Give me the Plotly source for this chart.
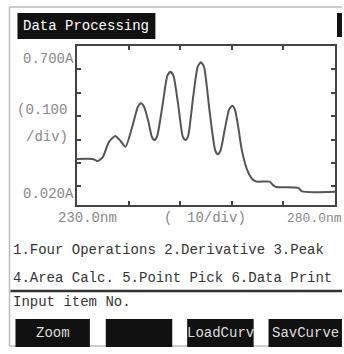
import plotly.graph_objects as go

# ---- data ----
wavelength_nm = [230.0, 233.0, 234.0, 235.0, 236.2, 237.4, 238.4, 239.4, 240.9,
                 241.8, 242.4, 243.0, 243.8, 244.5, 245.0, 245.5, 246.6,
                 247.5, 248.1, 248.7, 249.6, 250.5, 251.0, 251.5, 252.5,
                 253.4, 254.0, 254.6, 255.7, 256.8, 257.3, 257.8, 258.7,
                 259.5, 260.1, 260.6, 261.2, 261.9, 262.9, 264.0, 264.8,
                 267.3, 268.0, 268.6, 272.9, 273.6, 280.0]
absorbance = [0.217, 0.217, 0.208, 0.225, 0.290, 0.315, 0.295, 0.269, 0.370,
              0.440, 0.455, 0.440, 0.380, 0.312, 0.298, 0.312, 0.450,
              0.572, 0.590, 0.572, 0.450, 0.312, 0.298, 0.312, 0.480,
              0.612, 0.630, 0.612, 0.420, 0.252, 0.237, 0.252, 0.350,
              0.430, 0.444, 0.428, 0.360, 0.260, 0.175, 0.130, 0.120,
              0.120, 0.105, 0.097, 0.093, 0.078, 0.077]
x_range = [230.0, 280.0]
y_range = [0.020, 0.700]
x_ticks = [240, 250, 260, 270]
y_ticks = [0.1, 0.2, 0.3, 0.4, 0.5, 0.6]
menu_lines = ["1.Four Operations 2.Derivative 3.Peak",
              "4.Area Calc. 5.Point Pick 6.Data Print"]
buttons = ["Zoom", "", "LoadCurv", "SavCurve"]

W, H = 344, 354
L, R, T, B = 77, 337, 46, 205
FONT = "Liberation Mono, DejaVu Sans Mono, monospace"


def px(x):
    return (x - L) / (R - L)


def py(y):
    return (B - y) / (B - T)


fig = go.Figure()
fig.add_trace(go.Scatter(x=wavelength_nm, y=absorbance, mode="lines",
                         line=dict(color="#555555", width=2, shape="spline", smoothing=0.6),
                         hoverinfo="skip", showlegend=False))

shapes = []
annotations = []


def rect(x0, y0, x1, y1, fill, line_color=None, lw=0):
    shapes.append(dict(type="rect", xref="paper", yref="paper",
                       x0=px(x0), x1=px(x1), y0=py(y0), y1=py(y1),
                       fillcolor=fill, line=dict(color=line_color or fill, width=lw),
                       layer="above"))


def line(x0, y0, x1, y1, color, lw):
    shapes.append(dict(type="line", xref="paper", yref="paper",
                       x0=px(x0), x1=px(x1), y0=py(y0), y1=py(y1),
                       line=dict(color=color, width=lw), layer="above"))


def text(s, x, y, anchor="left", color="#333333", size=14):
    annotations.append(dict(text=s, xref="paper", yref="paper", x=px(x), y=py(y),
                            xanchor=anchor, yanchor="middle", showarrow=False,
                            font=dict(family=FONT, size=size, color=color)))


# outer frame
line(9, 7, 344, 7, "#bbbbbb", 1.5)
line(9, 7, 9, 346, "#bbbbbb", 1.5)
line(9, 346, 344, 346, "#bbbbbb", 1.5)

# title block
rect(17, 13, 156, 39, "#111111")
text("Data Processing", 86, 26, anchor="center", color="#ffffff")
rect(339, 13, 344, 37, "#111111")

# y labels
text("0.700A", 76, 59, anchor="right", color="#888888")
text("(0.100", 15, 110, anchor="left", color="#888888")
text("/div)", 24, 137, anchor="left", color="#888888")
text("0.020A", 76, 194, anchor="right", color="#888888")

# x labels
text("230.0nm", 88, 218, anchor="center", color="#888888")
text("(", 169, 218, anchor="center", color="#888888")
text("10/div)", 218, 218, anchor="center", color="#888888")
text("280.0nm", 287, 218, anchor="left", color="#888888", size=13)

# menu
text(menu_lines[0], 10, 250, anchor="left", color="#333333")
text(menu_lines[1], 10, 278, anchor="left", color="#333333")
line(10, 291, 344, 291, "#333333", 2.5)
text("Input item No.", 10, 302, anchor="left", color="#333333")

btn_x = [(15, 90), (106, 173), (188, 255), (270, 344)]
for (bx0, bx1), label in zip(btn_x, buttons):
    rect(bx0, 319, bx1, 347, "#111111")
    if label:
        text(label, (bx0 + bx1) / 2, 333, anchor="center", color="#dddddd")

axis_common = dict(showline=True, linecolor="#444444", linewidth=2, mirror="ticks",
                   ticks="inside", ticklen=4, tickwidth=1.5, tickcolor="#444444",
                   showgrid=False, zeroline=False, showticklabels=False)

fig.update_layout(
    width=W, height=H,
    margin=dict(l=L, r=W - R, t=T, b=H - B, pad=0),
    paper_bgcolor="#ffffff", plot_bgcolor="#ffffff",
    xaxis=dict(range=x_range, tickvals=x_ticks, **axis_common),
    yaxis=dict(range=y_range, tickvals=y_ticks, **axis_common),
    shapes=shapes, annotations=annotations, showlegend=False,
)

fig.write_html("out.html", config={"displayModeBar": False})
